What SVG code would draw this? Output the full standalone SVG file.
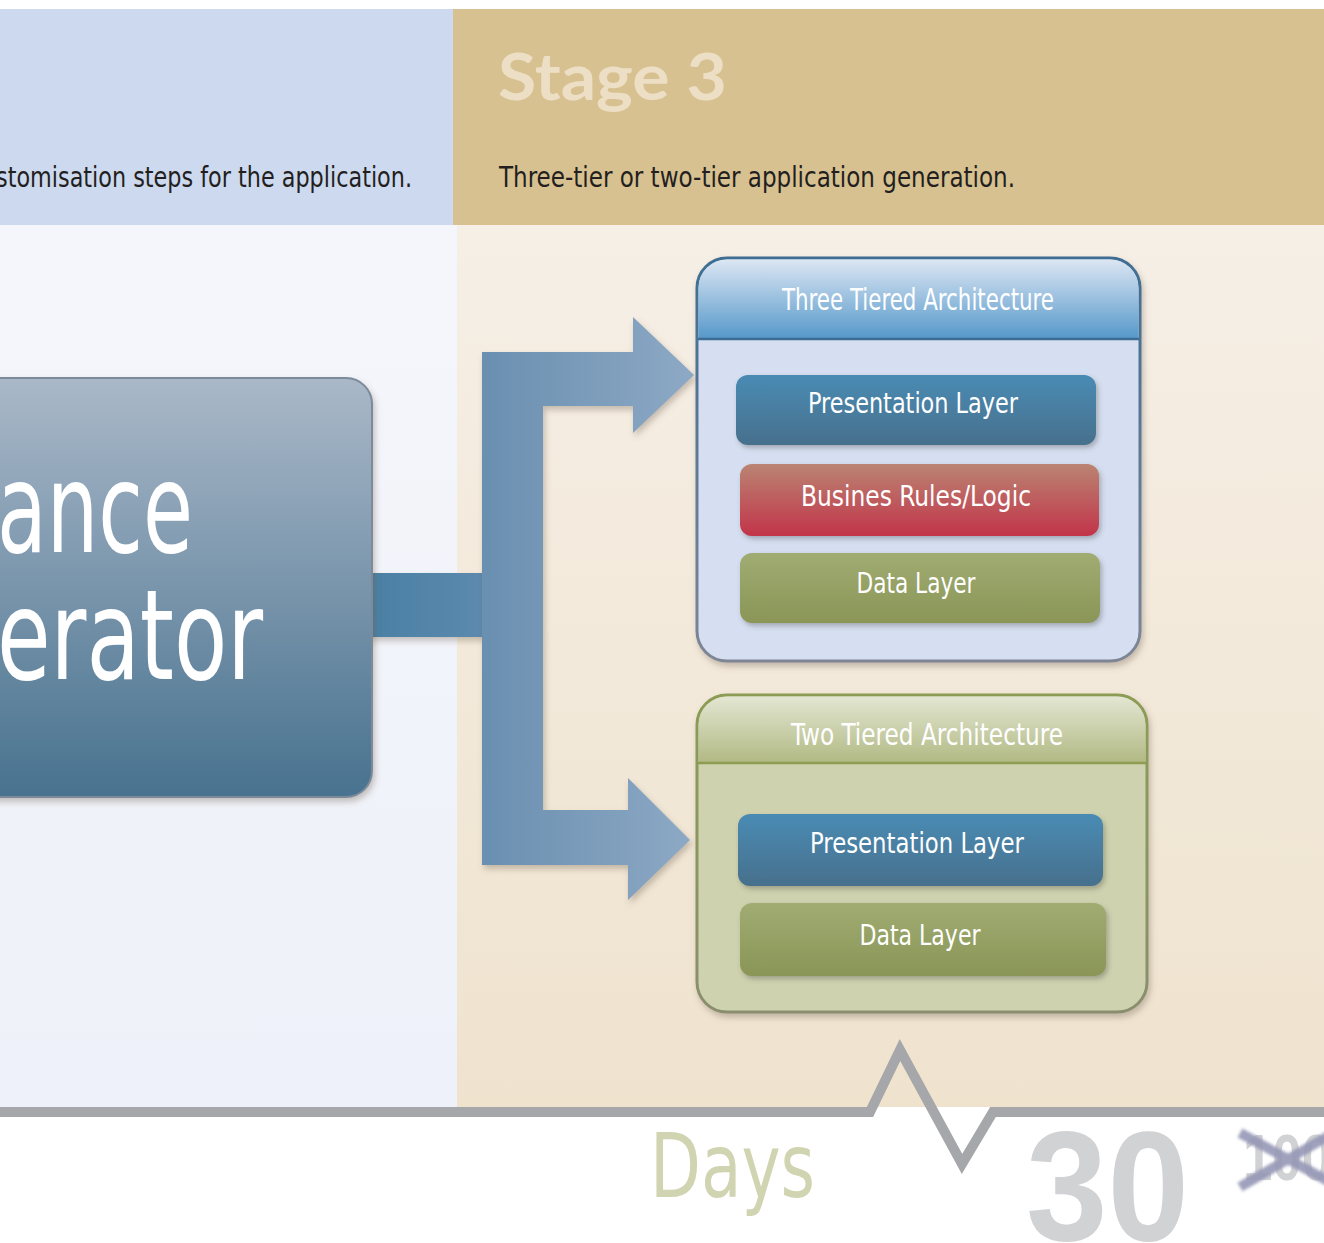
<svg xmlns="http://www.w3.org/2000/svg" width="1324" height="1243" viewBox="0 0 1324 1243">
<style>
.cond{font-family:"Liberation Sans Narrow","DejaVu Sans Condensed","Liberation Sans",sans-serif;}
.lbl{font-size:29px;fill:#ffffff;text-anchor:middle;}
.ttl{font-size:30px;fill:#ffffff;text-anchor:middle;}
.desc{font-size:29px;fill:#231F20;}
</style>
<defs>
<linearGradient id="bgL" x1="0" y1="0" x2="0" y2="1"><stop offset="0" stop-color="#F4F6FB"/><stop offset="1" stop-color="#EEF1F9"/></linearGradient>
<linearGradient id="bgR" x1="0" y1="0" x2="0" y2="1"><stop offset="0" stop-color="#F6EFE6"/><stop offset="1" stop-color="#EFE3CE"/></linearGradient>
<linearGradient id="bigG" x1="0" y1="0" x2="0" y2="1"><stop offset="0" stop-color="#AAB8C8"/><stop offset="1" stop-color="#48728F"/></linearGradient>
<linearGradient id="armG" gradientUnits="userSpaceOnUse" x1="482" y1="0" x2="694" y2="0"><stop offset="0" stop-color="#6A8FB0"/><stop offset="1" stop-color="#8DA9C5"/></linearGradient>
<linearGradient id="stemG" gradientUnits="userSpaceOnUse" x1="370" y1="0" x2="484" y2="0"><stop offset="0" stop-color="#4A80A4"/><stop offset="1" stop-color="#5C8AAE"/></linearGradient>
<linearGradient id="h3G" x1="0" y1="0" x2="0" y2="1"><stop offset="0" stop-color="#DCE6F3"/><stop offset="1" stop-color="#5598CA"/></linearGradient>
<linearGradient id="b3S" x1="0" y1="0" x2="0" y2="1"><stop offset="0" stop-color="#3F6E92"/><stop offset="1" stop-color="#7E8696"/></linearGradient>
<linearGradient id="h2G" x1="0" y1="0" x2="0" y2="1"><stop offset="0" stop-color="#E3E6D2"/><stop offset="1" stop-color="#B1B983"/></linearGradient>
<linearGradient id="b2S" x1="0" y1="0" x2="0" y2="1"><stop offset="0" stop-color="#8C9C55"/><stop offset="1" stop-color="#8A8E6E"/></linearGradient>
<linearGradient id="presG" x1="0" y1="0" x2="0" y2="1"><stop offset="0" stop-color="#4A8BB4"/><stop offset="1" stop-color="#46708C"/></linearGradient>
<linearGradient id="bizG" x1="0" y1="0" x2="0" y2="1"><stop offset="0" stop-color="#BA8472"/><stop offset="1" stop-color="#C2344A"/></linearGradient>
<linearGradient id="dataG" x1="0" y1="0" x2="0" y2="1"><stop offset="0" stop-color="#A0AC72"/><stop offset="1" stop-color="#8A9557"/></linearGradient>
<filter id="sh" x="-10%" y="-10%" width="125%" height="130%"><feDropShadow dx="2" dy="4" stdDeviation="3" flood-color="#6B5A48" flood-opacity="0.35"/></filter>
<filter id="shs" x="-10%" y="-20%" width="125%" height="150%"><feDropShadow dx="2" dy="3" stdDeviation="2.5" flood-color="#404040" flood-opacity="0.35"/></filter>
<filter id="blur" x="-20%" y="-20%" width="140%" height="140%"><feGaussianBlur stdDeviation="1.5"/></filter>
</defs>

<!-- backgrounds -->
<rect x="0" y="0" width="1324" height="1243" fill="#ffffff"/>
<rect x="0" y="9" width="453" height="216" fill="#CDD9EF"/>
<rect x="453" y="9" width="871" height="216" fill="#D8C190"/>
<rect x="0" y="225" width="457" height="882" fill="url(#bgL)"/>
<rect x="457" y="225" width="867" height="882" fill="url(#bgR)"/>

<!-- header texts -->
<text class="cond desc" x="-4" y="187" textLength="416" lengthAdjust="spacingAndGlyphs">stomisation steps for the application.</text>
<text x="498" y="100" font-family="Lato,'DejaVu Sans',sans-serif" font-weight="bold" font-size="65" fill="#EDDFC5" textLength="229" lengthAdjust="spacingAndGlyphs">Stage 3</text>
<text class="cond desc" x="499" y="187" textLength="516" lengthAdjust="spacingAndGlyphs">Three-tier or two-tier application generation.</text>

<!-- connectors -->
<g id="connectors">
<rect x="368" y="573" width="116" height="64" fill="url(#stemG)" filter="url(#sh)"/>
<path d="M482,352 L633,352 L633,317 L694,375 L633,433 L633,406 L543,406 L543,810 L628,810 L628,778 L690,840 L628,900 L628,865 L482,865 Z" fill="url(#armG)" filter="url(#sh)"/>
</g>

<!-- big node -->
<g id="generator">
<rect x="-40" y="378" width="412" height="419" rx="26" fill="url(#bigG)" stroke="#7D8A9A" stroke-width="2" filter="url(#sh)"/>
<text class="cond" x="-3" y="552" font-size="124" fill="#ffffff" textLength="196" lengthAdjust="spacingAndGlyphs">ance</text>
<text class="cond" x="-3" y="679" font-size="124" fill="#ffffff" textLength="266" lengthAdjust="spacingAndGlyphs">erator</text>
</g>

<!-- three tier -->
<g id="three-tier">
<rect x="697" y="258" width="443" height="403" rx="30" fill="#D6DFF1" stroke="url(#b3S)" stroke-width="3" filter="url(#sh)"/>
<path d="M698.5,339 L698.5,288 A28.5,28.5 0 0 1 727,259.5 L1110,259.5 A28.5,28.5 0 0 1 1138.5,288 L1138.5,339 Z" fill="url(#h3G)"/>
<line x1="698" y1="339" x2="1139" y2="339" stroke="#3D6D93" stroke-width="2.5"/>
<text class="cond ttl" x="918" y="310" textLength="272" lengthAdjust="spacingAndGlyphs">Three Tiered Architecture</text>
</g>
<g id="three-pres">
<rect x="736" y="375" width="360" height="70" rx="12" fill="url(#presG)" filter="url(#shs)"/>
<text class="cond lbl" x="913" y="413" textLength="210" lengthAdjust="spacingAndGlyphs">Presentation Layer</text>
</g>
<g id="three-biz">
<rect x="740" y="464" width="359" height="72" rx="12" fill="url(#bizG)" filter="url(#shs)"/>
<text class="cond lbl" x="916" y="506" textLength="230" lengthAdjust="spacingAndGlyphs">Busines Rules/Logic</text>
</g>
<g id="three-data">
<rect x="740" y="553" width="360" height="70" rx="12" fill="url(#dataG)" filter="url(#shs)"/>
<text class="cond lbl" x="916" y="593" textLength="119" lengthAdjust="spacingAndGlyphs">Data Layer</text>
</g>

<!-- two tier -->
<g id="two-tier">
<rect x="697" y="695" width="450" height="317" rx="30" fill="#CFD2AE" stroke="url(#b2S)" stroke-width="3" filter="url(#sh)"/>
<path d="M698.5,763 L698.5,725 A28.5,28.5 0 0 1 727,696.5 L1117,696.5 A28.5,28.5 0 0 1 1145.5,725 L1145.5,763 Z" fill="url(#h2G)"/>
<line x1="698" y1="763" x2="1146" y2="763" stroke="#8C9C50" stroke-width="2.5"/>
<text class="cond ttl" x="927" y="745" textLength="272" lengthAdjust="spacingAndGlyphs">Two Tiered Architecture</text>
</g>
<g id="two-pres">
<rect x="738" y="814" width="365" height="72" rx="12" fill="url(#presG)" filter="url(#shs)"/>
<text class="cond lbl" x="917" y="853" textLength="214" lengthAdjust="spacingAndGlyphs">Presentation Layer</text>
</g>
<g id="two-data">
<rect x="740" y="903" width="366" height="73" rx="12" fill="url(#dataG)" filter="url(#shs)"/>
<text class="cond lbl" x="920" y="945" textLength="121" lengthAdjust="spacingAndGlyphs">Data Layer</text>
</g>

<!-- timeline -->
<polyline points="0,1112 870,1112 900,1050 962,1164 993,1112 1324,1112" fill="none" stroke="#A6A7AB" stroke-width="10" stroke-linejoin="miter" stroke-miterlimit="10"/>
<text class="cond" x="650" y="1197" font-size="89" fill="#D0D4B1" textLength="165" lengthAdjust="spacingAndGlyphs">Days</text>
<text x="1026" y="1240" font-family="'Liberation Sans',Arial,sans-serif" font-weight="bold" font-size="156" fill="#D1D2D4" textLength="163" lengthAdjust="spacingAndGlyphs">30</text>
<text x="1243" y="1180" font-family="'Liberation Sans',Arial,sans-serif" font-weight="bold" font-size="65" fill="#D1D2D4" textLength="88" lengthAdjust="spacingAndGlyphs">100</text>
<g stroke="#9597B6" stroke-width="10" stroke-linecap="butt" opacity="0.9" filter="url(#blur)">
<line x1="1240" y1="1133" x2="1330" y2="1182"/>
<line x1="1240" y1="1187" x2="1330" y2="1135"/>
</g>
</svg>
